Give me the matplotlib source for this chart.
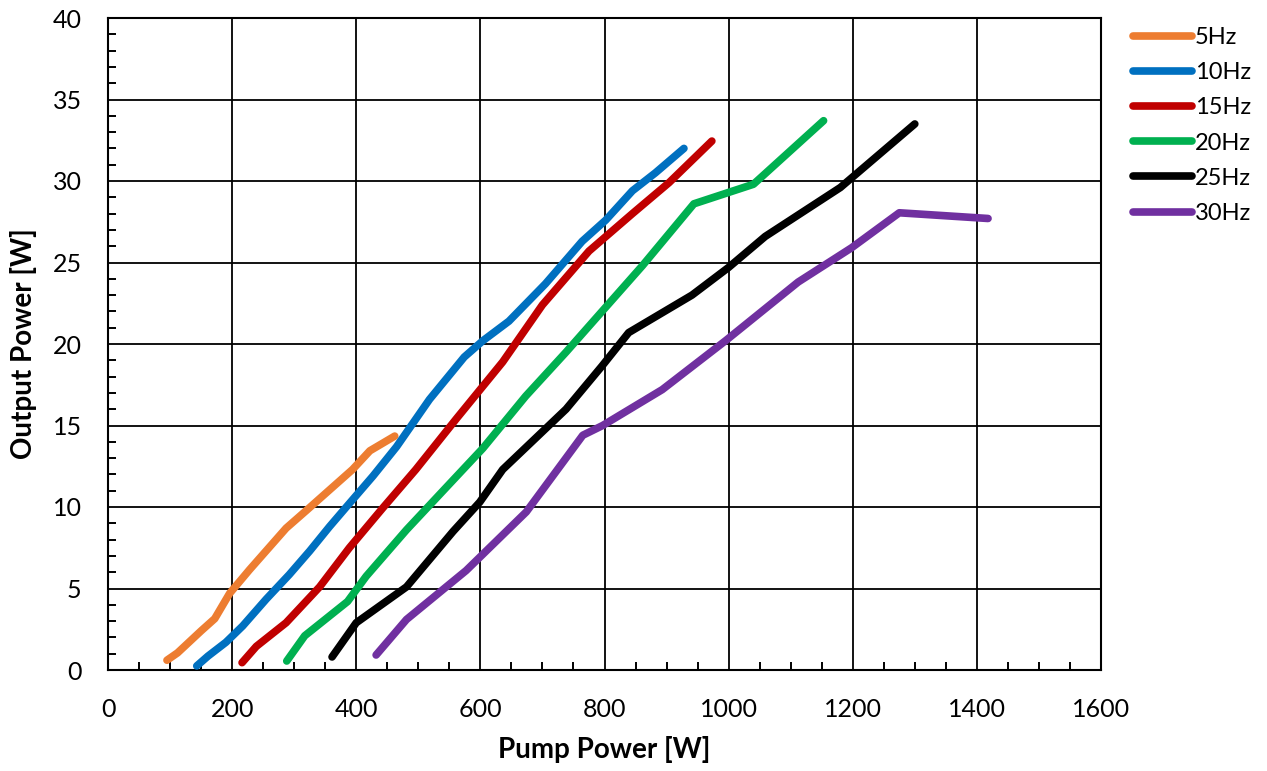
import matplotlib
matplotlib.use("Agg")
import matplotlib.pyplot as plt
from matplotlib.ticker import MultipleLocator

plt.rcParams['font.family'] = ['Lato', 'DejaVu Sans']

labels = ["5Hz", "10Hz", "15Hz", "20Hz", "25Hz", "30Hz"]
colors = ["#ED7D31", "#0070C0", "#C00000", "#00B050", "#000000", "#7030A0"]

x_5hz = [95, 112, 150, 172, 196, 228, 287, 320, 357, 394, 422, 462]
y_5hz = [0.6, 1.05, 2.4, 3.15, 4.7, 6.15, 8.7, 9.8, 11.05, 12.3, 13.45, 14.35]

x_10hz = [143, 161, 190, 217, 255, 292, 325, 357, 384, 427, 465, 518, 574, 604, 646, 705, 764, 802, 845, 882, 928]
y_10hz = [0.25, 0.85, 1.7, 2.7, 4.35, 5.85, 7.3, 8.8, 10.0, 11.9, 13.7, 16.6, 19.2, 20.2, 21.4, 23.7, 26.3, 27.6, 29.4, 30.5, 32.0]

x_15hz = [216, 239, 287, 341, 389, 443, 496, 561, 636, 700, 775, 845, 904, 973]
y_15hz = [0.45, 1.45, 2.9, 5.1, 7.5, 9.95, 12.3, 15.4, 18.9, 22.4, 25.7, 28.0, 29.9, 32.45]

x_20hz = [288, 317, 386, 416, 481, 540, 604, 673, 738, 796, 861, 944, 1040, 1153]
y_20hz = [0.55, 2.1, 4.2, 5.75, 8.6, 11.0, 13.6, 16.8, 19.5, 22.0, 24.8, 28.6, 29.8, 33.7]

x_25hz = [361, 400, 481, 556, 599, 636, 738, 796, 839, 941, 1000, 1059, 1180, 1300]
y_25hz = [0.8, 2.9, 5.1, 8.5, 10.3, 12.3, 16.0, 18.65, 20.7, 23.0, 24.7, 26.6, 29.6, 33.5]

x_30hz = [432, 481, 577, 674, 765, 797, 893, 995, 1112, 1198, 1275, 1418]
y_30hz = [0.92, 3.1, 6.1, 9.7, 14.4, 15.0, 17.2, 20.2, 23.8, 25.9, 28.05, 27.7]

series = [(x_5hz, y_5hz), (x_10hz, y_10hz), (x_15hz, y_15hz),
          (x_20hz, y_20hz), (x_25hz, y_25hz), (x_30hz, y_30hz)]

fig = plt.figure(figsize=(12.67, 7.71), dpi=100)
ax = fig.add_axes([108/1267, 1-670/771, (1101-108)/1267, (670-18)/771])

for (xs, ys), c, lab in zip(series, colors, labels):
    ax.plot(xs, ys, color=c, lw=5.5, solid_capstyle='round', solid_joinstyle='round', label=lab, zorder=3)

ax.set_xlim(0, 1600)
ax.set_ylim(0, 40)
ax.xaxis.set_major_locator(MultipleLocator(200))
ax.yaxis.set_major_locator(MultipleLocator(5))
ax.xaxis.set_minor_locator(MultipleLocator(50))
ax.yaxis.set_minor_locator(MultipleLocator(1))
ax.grid(True, which='major', color='black', lw=1.3, zorder=1)
ax.tick_params(which='major', direction='in', length=0, labelsize=18, colors='black')
ax.tick_params(axis='x', which='major', pad=20)
ax.tick_params(axis='y', which='major', pad=19)
ax.tick_params(which='minor', direction='in', length=6, width=1.4, color='black')
for s in ax.spines.values():
    s.set_color('black')
    s.set_linewidth(1.5)

ax.set_xlabel("Pump Power [W]", fontsize=20, fontweight='bold', labelpad=11)
ax.set_ylabel("Output Power [W]", fontsize=20, fontweight='bold', labelpad=11)

fig.legend(loc='upper left', bbox_to_anchor=(1133/1267, 1-27/771), frameon=False,
           fontsize=17, handlelength=2.5, handletextpad=0.12, labelspacing=0.6,
           borderaxespad=0, borderpad=0)

fig.savefig("out.png", dpi=100)
